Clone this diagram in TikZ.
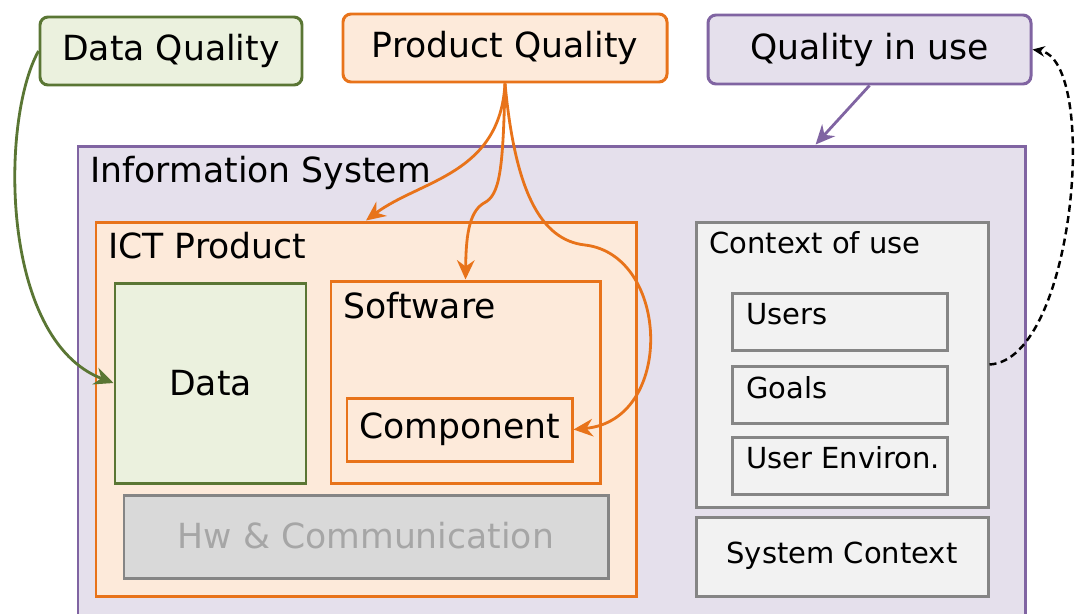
\documentclass[tikz,border=0pt]{standalone}
\usepackage{fontspec}
\setmainfont{DejaVu Sans}
\usetikzlibrary{arrows.meta,fit,calc}

\definecolor{dqgreen}{HTML}{5A7634}
\definecolor{dqfill}{HTML}{EBF1DE}
\definecolor{pqorange}{HTML}{E8731A}
\definecolor{pqfill}{HTML}{FDEADA}
\definecolor{qupurple}{HTML}{8064A2}
\definecolor{qufill}{HTML}{E5E0EC}
\definecolor{ctxgray}{HTML}{858585}
\definecolor{ctxfill}{HTML}{F2F2F2}
\definecolor{hwfill}{HTML}{D9D9D9}
\definecolor{hwtext}{HTML}{A6A6A6}

\begin{document}
\begin{tikzpicture}[
        x=0.02cm, y=-0.02cm,
        inner sep=0pt,
        big/.style={font=\fontsize{19.7}{24}\selectfont},
        small/.style={font=\fontsize{16.5}{20}\selectfont},
        box/.style={draw, rectangle, line width=1.7pt},
        qbox/.style={box, rounded corners=0.16cm},
        link/.style={line width=1.6pt, -{Stealth[length=11pt,width=10pt]}}]
        \useasboundingbox (0,0) rectangle (1078,613);
        \clip (0,0) rectangle (1078,613);
        % NODES
        % quality models
        \node[qbox, draw=dqgreen, fill=dqfill, fit={(40,17) (302,85)}] (dq) {};
        \node[big] (dqlabel) at (dq.center) {Data Quality};
        \node[qbox, draw=pqorange, fill=pqfill, fit={(343,14) (667,82)}] (pq) {};
        \node[big] (pqlabel) at (pq.center) {Product Quality};
        \node[qbox, draw=qupurple, fill=qufill, fit={(708,15) (1031,84)}] (qu) {};
        \node[big] (qulabel) at (qu.center) {Quality in use};
        % information system
        \node[box, draw=qupurple, fill=qufill, fit={(78,146) (1025,660)}] (is) {};
        \node[big, anchor=base west] (islabel) at (90,182) {Information System};
        % ICT product
        \node[box, draw=pqorange, fill=pqfill, fit={(96,222) (636,596)}] (ict) {};
        \node[big, anchor=base west] (ictlabel) at (108,258) {ICT Product};
        % data
        \node[box, draw=dqgreen, fill=dqfill, fit={(115,283) (306,483)}] (data) {};
        \node[big] (datalabel) at (data.center) {Data};
        % software
        \node[box, draw=pqorange, fill=pqfill, fit={(331,281) (600,483)}] (sw) {};
        \node[big, anchor=base west] (swlabel) at (343,318) {Software};
        \node[box, draw=pqorange, fill=pqfill, fit={(347,398) (572,461)}] (comp) {};
        \node[big, anchor=base] (complabel) at (460,438) {Component};
        % hardware
        \node[box, draw=ctxgray, fill=hwfill, fit={(124,495) (608,578)}] (hw) {};
        \node[big, text=hwtext, anchor=base] (hwlabel) at (366,548) {Hw \& Communication};
        % context of use
        \node[box, draw=ctxgray, fill=ctxfill, fit={(696,222) (988,507)}] (cou) {};
        \node[small, anchor=base west] (coulabel) at (709,253) {Context of use};
        \node[box, draw=ctxgray, fill=ctxfill, fit={(732,293) (947,350)}] (users) {};
        \node[small, anchor=base west] (userslabel) at (746,324) {Users};
        \node[box, draw=ctxgray, fill=ctxfill, fit={(732,366) (947,423)}] (goals) {};
        \node[small, anchor=base west] (goalslabel) at (746,398) {Goals};
        \node[box, draw=ctxgray, fill=ctxfill, fit={(732,437) (947,494)}] (env) {};
        \node[small, anchor=base west] (envlabel) at (746,468) {User Environ.};
        % system context
        \node[box, draw=ctxgray, fill=ctxfill, fit={(696,517) (988,596)}] (sysctx) {};
        \node[small, anchor=base] (sysctxlabel) at (842,563) {System Context};

        % ARROWS
        \draw[link, dqgreen] (dq.west) .. controls (0,120) and (0,340) .. (data.west);
        \draw[link, pqorange] (pq.south) .. controls (500,175) and (420,180) .. (ict.north);
        \draw[link, pqorange] (pq.south) .. controls (503,170) and (500,195) .. (484,203)
            .. controls (468,212) and (466,240) .. (sw.north);
        \draw[link, pqorange] (pq.south) .. controls (515,190) and (540,240) .. (585,245)
            .. controls (670,255) and (675,420) .. (comp.east);
        \draw[link, qupurple] (qu.south) -- ($(is.north west)!0.778!(is.north east)$);
        \draw[line width=1.4pt, dash pattern=on 4pt off 2.5pt, -{Stealth[length=7pt,width=6pt]}]
            (cou.east) .. controls (1075,360) and (1100,60) .. (qu.east);
    \end{tikzpicture}
\end{document}
